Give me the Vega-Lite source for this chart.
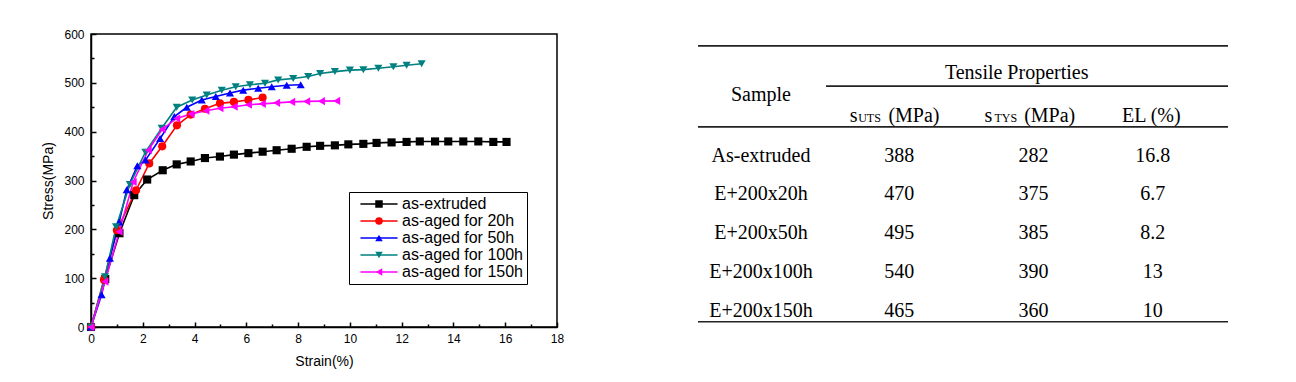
{
  "$schema": "https://vega.github.io/schema/vega-lite/v6.json",
  "background": "white",
  "padding": {"left": 41, "top": 27, "right": 5, "bottom": 5},
  "spacing": 141,
  "bounds": "flush",
  "config": {"font": "Liberation Sans"},
  "datasets": {
    "curves": [
      {"series": "as-extruded", "strain": 0, "stress": 0},
      {"series": "as-extruded", "strain": 0.55, "stress": 98},
      {"series": "as-extruded", "strain": 1.1, "stress": 192},
      {"series": "as-extruded", "strain": 1.67, "stress": 270},
      {"series": "as-extruded", "strain": 2.17, "stress": 302},
      {"series": "as-extruded", "strain": 2.77, "stress": 321},
      {"series": "as-extruded", "strain": 3.31, "stress": 333},
      {"series": "as-extruded", "strain": 3.85, "stress": 339},
      {"series": "as-extruded", "strain": 4.4, "stress": 346},
      {"series": "as-extruded", "strain": 4.98, "stress": 349},
      {"series": "as-extruded", "strain": 5.52, "stress": 353},
      {"series": "as-extruded", "strain": 6.08, "stress": 356},
      {"series": "as-extruded", "strain": 6.63, "stress": 359},
      {"series": "as-extruded", "strain": 7.17, "stress": 362},
      {"series": "as-extruded", "strain": 7.75, "stress": 365},
      {"series": "as-extruded", "strain": 8.33, "stress": 369},
      {"series": "as-extruded", "strain": 8.85, "stress": 371},
      {"series": "as-extruded", "strain": 9.42, "stress": 372},
      {"series": "as-extruded", "strain": 9.94, "stress": 374},
      {"series": "as-extruded", "strain": 10.52, "stress": 375},
      {"series": "as-extruded", "strain": 11.03, "stress": 377},
      {"series": "as-extruded", "strain": 11.61, "stress": 378},
      {"series": "as-extruded", "strain": 12.19, "stress": 379},
      {"series": "as-extruded", "strain": 12.7, "stress": 380},
      {"series": "as-extruded", "strain": 13.29, "stress": 380},
      {"series": "as-extruded", "strain": 13.8, "stress": 380},
      {"series": "as-extruded", "strain": 14.38, "stress": 380},
      {"series": "as-extruded", "strain": 14.96, "stress": 380},
      {"series": "as-extruded", "strain": 15.54, "stress": 379},
      {"series": "as-extruded", "strain": 16.05, "stress": 379},
      {"series": "as-aged for 20h", "strain": 0, "stress": 0},
      {"series": "as-aged for 20h", "strain": 0.5, "stress": 97},
      {"series": "as-aged for 20h", "strain": 1.0, "stress": 198},
      {"series": "as-aged for 20h", "strain": 1.74, "stress": 280},
      {"series": "as-aged for 20h", "strain": 2.25, "stress": 335},
      {"series": "as-aged for 20h", "strain": 2.75, "stress": 370},
      {"series": "as-aged for 20h", "strain": 3.32, "stress": 413},
      {"series": "as-aged for 20h", "strain": 3.85, "stress": 435},
      {"series": "as-aged for 20h", "strain": 4.4, "stress": 447},
      {"series": "as-aged for 20h", "strain": 4.98, "stress": 458},
      {"series": "as-aged for 20h", "strain": 5.52, "stress": 461},
      {"series": "as-aged for 20h", "strain": 6.08, "stress": 465},
      {"series": "as-aged for 20h", "strain": 6.63, "stress": 470},
      {"series": "as-aged for 50h", "strain": 0, "stress": 0},
      {"series": "as-aged for 50h", "strain": 0.41, "stress": 66},
      {"series": "as-aged for 50h", "strain": 0.73, "stress": 141},
      {"series": "as-aged for 50h", "strain": 1.09, "stress": 215},
      {"series": "as-aged for 50h", "strain": 1.38, "stress": 281},
      {"series": "as-aged for 50h", "strain": 1.79, "stress": 330},
      {"series": "as-aged for 50h", "strain": 2.11, "stress": 342},
      {"series": "as-aged for 50h", "strain": 2.67, "stress": 386},
      {"series": "as-aged for 50h", "strain": 3.22, "stress": 431},
      {"series": "as-aged for 50h", "strain": 3.7, "stress": 450},
      {"series": "as-aged for 50h", "strain": 4.28, "stress": 465},
      {"series": "as-aged for 50h", "strain": 4.82, "stress": 472},
      {"series": "as-aged for 50h", "strain": 5.37, "stress": 479},
      {"series": "as-aged for 50h", "strain": 5.88, "stress": 485},
      {"series": "as-aged for 50h", "strain": 6.46, "stress": 489},
      {"series": "as-aged for 50h", "strain": 6.98, "stress": 492},
      {"series": "as-aged for 50h", "strain": 7.56, "stress": 495},
      {"series": "as-aged for 50h", "strain": 8.1, "stress": 496},
      {"series": "as-aged for 100h", "strain": 0, "stress": 0},
      {"series": "as-aged for 100h", "strain": 0.54, "stress": 103},
      {"series": "as-aged for 100h", "strain": 0.97, "stress": 205},
      {"series": "as-aged for 100h", "strain": 1.5, "stress": 292},
      {"series": "as-aged for 100h", "strain": 2.1, "stress": 358},
      {"series": "as-aged for 100h", "strain": 2.73, "stress": 407},
      {"series": "as-aged for 100h", "strain": 3.31, "stress": 450},
      {"series": "as-aged for 100h", "strain": 3.91, "stress": 465},
      {"series": "as-aged for 100h", "strain": 4.47, "stress": 475},
      {"series": "as-aged for 100h", "strain": 5.05, "stress": 485},
      {"series": "as-aged for 100h", "strain": 5.59, "stress": 492},
      {"series": "as-aged for 100h", "strain": 6.14, "stress": 496},
      {"series": "as-aged for 100h", "strain": 6.72, "stress": 499},
      {"series": "as-aged for 100h", "strain": 7.23, "stress": 506},
      {"series": "as-aged for 100h", "strain": 7.81, "stress": 509},
      {"series": "as-aged for 100h", "strain": 8.39, "stress": 513},
      {"series": "as-aged for 100h", "strain": 8.85, "stress": 519},
      {"series": "as-aged for 100h", "strain": 9.42, "stress": 523},
      {"series": "as-aged for 100h", "strain": 10.0, "stress": 526},
      {"series": "as-aged for 100h", "strain": 10.52, "stress": 527},
      {"series": "as-aged for 100h", "strain": 11.1, "stress": 530},
      {"series": "as-aged for 100h", "strain": 11.68, "stress": 533},
      {"series": "as-aged for 100h", "strain": 12.19, "stress": 536},
      {"series": "as-aged for 100h", "strain": 12.77, "stress": 539},
      {"series": "as-aged for 150h", "strain": 0, "stress": 0},
      {"series": "as-aged for 150h", "strain": 0.54, "stress": 93},
      {"series": "as-aged for 150h", "strain": 1.09, "stress": 195},
      {"series": "as-aged for 150h", "strain": 1.63, "stress": 297},
      {"series": "as-aged for 150h", "strain": 2.21, "stress": 362},
      {"series": "as-aged for 150h", "strain": 2.75, "stress": 405},
      {"series": "as-aged for 150h", "strain": 3.31, "stress": 427},
      {"series": "as-aged for 150h", "strain": 3.86, "stress": 436},
      {"series": "as-aged for 150h", "strain": 4.44, "stress": 443},
      {"series": "as-aged for 150h", "strain": 4.98, "stress": 448},
      {"series": "as-aged for 150h", "strain": 5.53, "stress": 451},
      {"series": "as-aged for 150h", "strain": 6.08, "stress": 455},
      {"series": "as-aged for 150h", "strain": 6.62, "stress": 457},
      {"series": "as-aged for 150h", "strain": 7.17, "stress": 459},
      {"series": "as-aged for 150h", "strain": 7.75, "stress": 461},
      {"series": "as-aged for 150h", "strain": 8.33, "stress": 462},
      {"series": "as-aged for 150h", "strain": 8.9, "stress": 462.5},
      {"series": "as-aged for 150h", "strain": 9.49, "stress": 463}
    ],
    "cells": [
      {"r": -2.13, "c": 1.867, "text": "Tensile Properties", "kind": "head"},
      {"r": -1.57, "c": 0, "text": "Sample", "kind": "head"},
      {"r": -1.03, "c": 0.677, "text": "s", "kind": "head"},
      {"r": -1.03, "c": 0.792, "text": "UTS", "kind": "sub"},
      {"r": -1.03, "c": 1.117, "text": "(MPa)", "kind": "head"},
      {"r": -1.03, "c": 1.66, "text": "s", "kind": "head"},
      {"r": -1.03, "c": 1.788, "text": "TYS", "kind": "sub"},
      {"r": -1.03, "c": 2.108, "text": "(MPa)", "kind": "head"},
      {"r": -1.03, "c": 2.85, "text": "EL (%)", "kind": "head"},
      {"r": 0, "c": 0, "text": "As-extruded", "kind": "cell"},
      {"r": 0, "c": 1.01, "text": "388", "kind": "cell"},
      {"r": 0, "c": 1.99, "text": "282", "kind": "cell"},
      {"r": 0, "c": 2.86, "text": "16.8", "kind": "cell"},
      {"r": 1, "c": 0, "text": "E+200x20h", "kind": "cell"},
      {"r": 1, "c": 1.01, "text": "470", "kind": "cell"},
      {"r": 1, "c": 1.99, "text": "375", "kind": "cell"},
      {"r": 1, "c": 2.86, "text": "6.7", "kind": "cell"},
      {"r": 2, "c": 0, "text": "E+200x50h", "kind": "cell"},
      {"r": 2, "c": 1.01, "text": "495", "kind": "cell"},
      {"r": 2, "c": 1.99, "text": "385", "kind": "cell"},
      {"r": 2, "c": 2.86, "text": "8.2", "kind": "cell"},
      {"r": 3, "c": 0, "text": "E+200x100h", "kind": "cell"},
      {"r": 3, "c": 1.01, "text": "540", "kind": "cell"},
      {"r": 3, "c": 1.99, "text": "390", "kind": "cell"},
      {"r": 3, "c": 2.86, "text": "13", "kind": "cell"},
      {"r": 4, "c": 0, "text": "E+200x150h", "kind": "cell"},
      {"r": 4, "c": 1.01, "text": "465", "kind": "cell"},
      {"r": 4, "c": 1.99, "text": "360", "kind": "cell"},
      {"r": 4, "c": 2.86, "text": "10", "kind": "cell"}
    ],
    "rules": [
      {"r": -2.99, "c1": -0.46, "c2": 3.41},
      {"r": -1.95, "c1": 0.475, "c2": 3.41},
      {"r": -0.9, "c1": -0.46, "c2": 3.41},
      {"r": 4.13, "c1": -0.46, "c2": 3.41}
    ]
  },
  "hconcat": [
    {
      "width": 466,
      "height": 293,
      "data": {"name": "curves"},
      "view": {"stroke": "black", "strokeWidth": 1.5},
      "resolve": {"legend": {"color": "independent", "shape": "independent"}},
      "encoding": {
        "x": {
          "field": "strain", "type": "quantitative",
          "scale": {"domain": [0, 18], "nice": false, "zero": false},
          "axis": {
            "title": "Strain(%)",
            "values": [0, 1, 2, 3, 4, 5, 6, 7, 8, 9, 10, 11, 12, 13, 14, 15, 16, 17, 18],
            "labelExpr": "datum.value % 2 === 0 ? datum.label : ''",
            "tickSize": {"condition": {"test": "datum.value % 2 === 0", "value": -5}, "value": -3},
            "grid": false, "labelOverlap": false, "labelFlush": false,
            "domainColor": "black", "domainWidth": 1.5, "tickColor": "black", "tickWidth": 1.5,
            "labelFontSize": 12, "labelColor": "black", "labelPadding": 11,
            "titleFontSize": 14, "titleFontWeight": "normal", "titleColor": "black", "titlePadding": 8
          }
        },
        "y": {
          "field": "stress", "type": "quantitative",
          "scale": {"domain": [0, 600], "nice": false},
          "axis": {
            "title": "Stress(MPa)",
            "values": [0, 50, 100, 150, 200, 250, 300, 350, 400, 450, 500, 550, 600],
            "labelExpr": "datum.value % 100 === 0 ? datum.label : ''",
            "tickSize": {"condition": {"test": "datum.value % 100 === 0", "value": -5}, "value": -3},
            "grid": false, "labelOverlap": false, "labelFlush": false,
            "domainColor": "black", "domainWidth": 1.5, "tickColor": "black", "tickWidth": 1.5,
            "labelFontSize": 12, "labelColor": "black", "labelPadding": 12,
            "titleFontSize": 14, "titleFontWeight": "normal", "titleColor": "black", "titlePadding": 8
          }
        }
      },
      "layer": [
        {
          "mark": {"type": "line", "strokeWidth": 1.6},
          "encoding": {
            "color": {
              "field": "series", "type": "nominal",
              "scale": {
                "domain": ["as-extruded", "as-aged for 20h", "as-aged for 50h", "as-aged for 100h", "as-aged for 150h"],
                "range": ["#000000", "#ff0000", "#0000ff", "#008080", "#ff00ff"]
              },
              "legend": {
                "title": null, "orient": "none", "legendX": 258, "legendY": 158,
                "strokeColor": "black", "fillColor": "white",
                "padding": 4, "rowPadding": 1, "symbolSize": 49, "symbolOffset": 18,
                "symbolType": "M-5.3,0L5.3,0", "symbolStrokeWidth": 1.6,
                "labelOffset": 15, "labelFontSize": 16, "labelColor": "black", "labelLimit": 300
              }
            }
          }
        },
        {
          "mark": {"type": "point", "filled": true, "size": 66, "opacity": 1},
          "encoding": {
            "color": {
              "field": "series", "type": "nominal",
              "legend": {
                "title": null, "orient": "none", "legendX": 258, "legendY": 158,
                "padding": 4, "rowPadding": 1, "symbolSize": 56, "symbolOffset": 18,
                "labelOffset": 15, "labelFontSize": 16, "labelOpacity": 0, "labelLimit": 300
              }
            },
            "shape": {
              "field": "series", "type": "nominal",
              "scale": {
                "domain": ["as-extruded", "as-aged for 20h", "as-aged for 50h", "as-aged for 100h", "as-aged for 150h"],
                "range": ["square", "circle", "triangle-up", "triangle-down", "triangle-left"]
              },
              "legend": null
            }
          }
        }
      ]
    },
    {
      "width": 530,
      "height": 293,
      "view": {"stroke": null},
      "encoding": {
        "x": {"type": "quantitative", "scale": {"domain": [-0.46, 3.41], "nice": false, "zero": false}, "axis": null},
        "y": {"type": "quantitative", "scale": {"domain": [-3.296, 4.266], "nice": false, "zero": false, "reverse": true}, "axis": null}
      },
      "layer": [
        {
          "data": {"name": "rules"},
          "mark": {"type": "rule", "color": "#222222", "strokeWidth": 1.6},
          "encoding": {
            "x": {"field": "c1", "type": "quantitative"},
            "x2": {"field": "c2"},
            "y": {"field": "r", "type": "quantitative"}
          }
        },
        {
          "data": {"name": "cells"},
          "transform": [{"filter": "datum.kind !== 'sub'"}],
          "mark": {"type": "text", "font": "Liberation Serif", "fontSize": 20, "align": "center", "baseline": "alphabetic", "color": "black"},
          "encoding": {
            "x": {"field": "c", "type": "quantitative"},
            "y": {"field": "r", "type": "quantitative"},
            "text": {"field": "text"}
          }
        },
        {
          "data": {"name": "cells"},
          "transform": [{"filter": "datum.kind === 'sub'"}],
          "mark": {"type": "text", "font": "Liberation Serif", "fontSize": 12, "align": "center", "baseline": "alphabetic", "color": "black"},
          "encoding": {
            "x": {"field": "c", "type": "quantitative"},
            "y": {"field": "r", "type": "quantitative"},
            "text": {"field": "text"}
          }
        }
      ]
    }
  ]
}
